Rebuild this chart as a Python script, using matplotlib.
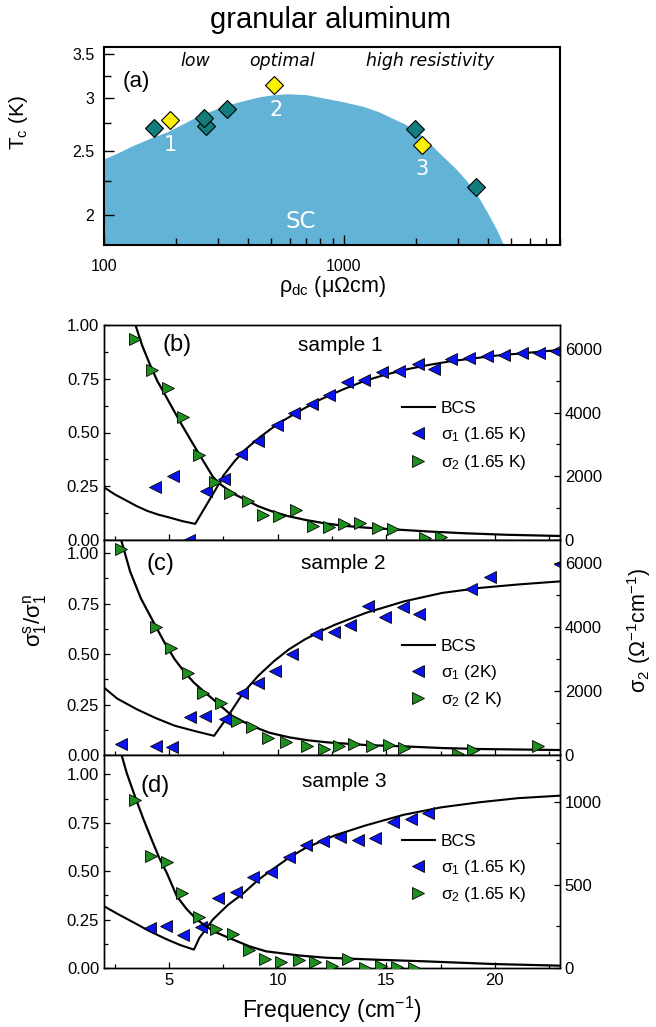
import matplotlib
matplotlib.use("Agg")
import matplotlib.pyplot as plt
from matplotlib.lines import Line2D
from matplotlib.ticker import FixedLocator, MultipleLocator, NullFormatter, FormatStrFormatter, LogLocator

plt.rcParams["font.family"] = ["Liberation Sans", "DejaVu Sans"]
plt.rcParams["mathtext.default"] = "regular"

# ---- panel (a): Tc vs rho ----
dome_rho = [100, 115, 130, 155, 183, 215, 250, 300, 347, 400, 450, 510, 581, 700, 849, 1000, 1200,
            1400, 1600, 1800, 1983, 2133, 2350, 2600, 2900, 3200, 3566, 4000, 4350, 4655]
dome_tc = [2.43, 2.485, 2.54, 2.61, 2.67, 2.75, 2.83, 2.90, 2.95, 2.99, 3.02, 3.04, 3.05, 3.04, 3.0,
           2.965, 2.92, 2.865, 2.80, 2.745, 2.69, 2.63, 2.54, 2.45, 2.36, 2.27, 2.16, 2.01, 1.90, 1.80]

teal_rho = [161, 266, 262, 327, 1988, 3566]
teal_tc = [2.705, 2.73, 2.80, 2.897, 2.70, 2.20]
yellow_rho = [189, 511, 2133]
yellow_tc = [2.78, 3.145, 2.55]

sample_names = ["1", "2", "3"]
sample_rho = [189, 524, 2133]
sample_tc = [2.55, 2.885, 2.35]

region_names = ["low", "optimal", "high resistivity"]
region_rho = [240, 554, 2296]

# ---- panel (b): sample 1 ----
f1_b = [4.37, 5.17, 5.93, 6.70, 7.51, 8.31, 9.11, 9.95, 10.77, 11.56, 12.35, 13.19, 13.96, 14.80,
        15.60, 16.44, 17.21, 17.98, 18.82, 19.62, 20.40, 21.25, 22.04, 22.81]
s1_b = [0.245, 0.298, 0.0, 0.228, 0.284, 0.40, 0.462, 0.535, 0.589, 0.631, 0.674, 0.736, 0.744, 0.783,
        0.785, 0.819, 0.794, 0.840, 0.845, 0.856, 0.860, 0.868, 0.871, 0.879]
f2_b = [3.45, 4.22, 4.94, 5.63, 6.36, 7.09, 7.82, 8.62, 9.34, 10.08, 10.84, 11.61, 12.35, 13.07,
        13.80, 14.60, 15.31, 16.8, 17.5]
s2_b = [6310, 5337, 4781, 3872, 2668, 1830, 1465, 1234, 785, 753, 942, 440, 418, 493,
        524, 366, 355, 60, 80]
bcs1_fb = [2, 2.5, 3, 3.5, 4, 4.5, 5, 5.6, 6.2, 6.7, 7.2, 7.5, 8.0, 8.5, 9.2, 10, 11, 12, 13, 14,
           15, 16, 17, 18, 20, 23]
bcs1_b = [0.245, 0.212, 0.185, 0.158, 0.135, 0.118, 0.105, 0.088, 0.075, 0.16, 0.245, 0.30, 0.365, 0.42,
          0.48, 0.54, 0.60, 0.655, 0.70, 0.74, 0.77, 0.795, 0.815, 0.832, 0.857, 0.884]
bcs2_fb = [3.0, 3.45, 3.75, 4.09, 4.45, 4.86, 5.25, 5.63, 6.0, 6.36, 7.01, 7.3, 7.62, 8.0, 8.54, 9.1, 9.77,
           10.5, 11.30, 12.1, 12.99, 14.0, 15.29, 17.0, 18.67, 20.5, 23]
bcs2_b = [7800, 6750, 6120, 5550, 5000, 4500, 4020, 3560, 3130, 2720, 1990, 1780, 1620, 1440, 1255,
          1060, 890, 745, 628, 530, 450, 390, 336, 265, 210, 165, 126]

# ---- panel (c): sample 2 ----
f1_c = [2.76, 4.38, 5.13, 5.96, 6.66, 7.58, 8.34, 9.08, 9.87, 10.66, 11.77, 12.61, 13.32, 14.14,
        14.94, 15.76, 16.52, 18.9, 19.78, 23.0]
s1_c = [0.054, 0.046, 0.038, 0.186, 0.194, 0.178, 0.306, 0.359, 0.416, 0.498, 0.597, 0.609, 0.646, 0.74,
        0.684, 0.734, 0.696, 0.822, 0.88, 0.946]
f2_c = [2.79, 4.41, 5.08, 5.87, 6.58, 7.37, 8.11, 8.83, 9.57, 10.36, 11.33, 12.12, 12.82, 13.53,
        14.32, 15.11, 15.82, 18.28, 18.98, 21.98]
s2_c = [6446, 4002, 3357, 2578, 1954, 1642, 1050, 863, 520, 395, 291, 187, 291, 343,
        270, 312, 218, 31, 166, 291]
bcs1_fc = [2, 2.6, 3.5, 4.4, 5.26, 6.2, 7.07, 7.72, 8.42, 9.1, 9.83, 10.5, 11.24, 12.0, 12.65, 14.06,
           15.82, 17.58, 19.34, 21.1, 23]
bcs1_c = [0.334, 0.28, 0.227, 0.182, 0.145, 0.118, 0.095, 0.194, 0.309, 0.392, 0.465, 0.522, 0.572, 0.614,
          0.646, 0.704, 0.761, 0.803, 0.828, 0.845, 0.86]
bcs2_fc = [2.5, 2.79, 3.2, 3.7, 4.38, 4.8, 5.26, 5.7, 6.14, 6.6, 7.02, 7.9, 8.78, 9.6, 10.54, 11.4, 12.3,
           14.06, 15.82, 17.58, 19.34, 23]
bcs2_c = [7500, 6730, 5750, 4900, 4033, 3500, 2993, 2600, 2266, 1990, 1746, 1226, 915, 700, 551, 460,
          395, 312, 270, 218, 187, 156]

# ---- panel (d): sample 3 ----
f1_d = [4.12, 4.84, 5.62, 6.45, 7.26, 8.08, 8.88, 9.67, 10.52, 11.31, 12.1, 12.89, 13.72, 14.47,
        15.32, 16.14, 16.93]
s1_d = [0.207, 0.219, 0.172, 0.21, 0.363, 0.392, 0.471, 0.494, 0.574, 0.634, 0.656, 0.676, 0.659, 0.673,
        0.753, 0.767, 0.801]
f2_d = [3.41, 4.16, 4.9, 5.6, 6.39, 7.18, 7.92, 8.68, 9.43, 10.17, 10.96, 11.72, 12.49, 13.24,
        14.0, 14.74, 15.49, 16.28]
s2_d = [1008, 672, 638, 453, 305, 233, 205, 110, 56, 36, 50, 36, 10, 54, 0, 10, 6, 0]
bcs1_fd = [2, 2.6, 3.35, 4.1, 4.89, 5.5, 6.14, 6.39, 7.01, 7.7, 8.41, 9.1, 9.82, 10.5, 11.22, 12.63, 14.04,
           15.79, 17.55, 19.3, 21.06, 23]
bcs1_d = [0.319, 0.281, 0.236, 0.19, 0.148, 0.119, 0.095, 0.155, 0.25, 0.325, 0.385, 0.455, 0.514, 0.568,
          0.616, 0.685, 0.736, 0.791, 0.830, 0.856, 0.877, 0.89]
bcs2_fd = [2.5, 2.7, 3.05, 3.41, 3.8, 4.2, 4.55, 4.9, 5.35, 5.8, 6.27, 7.03, 7.94, 8.7, 9.47, 11.0, 12.2,
           14.5, 16.8, 19.9, 23]
bcs2_d = [1480, 1330, 1170, 1037, 900, 770, 660, 569, 432, 355, 291, 221, 171, 130, 100, 75, 62,
          50, 40, 24, 14]

W, H = 656, 1027


def box(l, t, r, b):
    return [l / W, 1 - b / H, (r - l) / W, (b - t) / H]


fig = plt.figure(figsize=(W / 100, H / 100), dpi=100)

fig.text(331 / W, 1 - 20 / H, "granular aluminum", fontsize=21, ha="center", va="center")

# %% panel (a)
ax = fig.add_axes(box(104, 47, 560, 245))
ax.fill_between(dome_rho, dome_tc, 1.0, color="#63b3d6", lw=0, zorder=1)
ax.plot(teal_rho, teal_tc, "D", ms=8.7, mfc="#137d7d", mec="k", mew=0.8, zorder=3)
ax.plot(yellow_rho, yellow_tc, "D", ms=8.7, mfc="#fff200", mec="k", mew=0.8, zorder=3)
for name, r, t in zip(sample_names, sample_rho, sample_tc):
    ax.text(r, t, name, color="white", fontsize=15, ha="center", va="center", family="DejaVu Sans")
for name, r in zip(region_names, region_rho):
    ax.text(r, 3.42, name, fontsize=12.5, ha="center", va="center", style="italic", family="DejaVu Sans")
ax.text(661, 1.954, "SC", color="white", fontsize=16.5, ha="center", va="center", family="DejaVu Sans")
ax.text(137, 3.18, "(a)", fontsize=16, ha="center", va="center")
ax.set_xscale("log")
ax.set_yscale("log")
ax.set_xlim(100, 8000)
ax.set_ylim(1.80, 3.59)
ax.xaxis.set_major_locator(FixedLocator([100, 1000]))
ax.xaxis.set_major_formatter(FormatStrFormatter("%d"))
ax.xaxis.set_minor_locator(LogLocator(subs=range(2, 10)))
ax.xaxis.set_minor_formatter(NullFormatter())
ax.yaxis.set_major_locator(FixedLocator([2, 2.5, 3, 3.5]))
ax.yaxis.set_major_formatter(FormatStrFormatter("%g"))
ax.yaxis.set_minor_locator(FixedLocator([2.25, 2.75, 3.25]))
ax.yaxis.set_minor_formatter(NullFormatter())
ax.tick_params(which="both", direction="in", labelsize=11.5, width=1)
ax.tick_params(axis="x", pad=10)
ax.tick_params(axis="y", pad=7)
ax.tick_params(which="major", length=7.5)
ax.tick_params(which="minor", length=5)
for s in ax.spines.values():
    s.set_linewidth(1.5)
fig.text(18 / W, 1 - 122 / H, r"$T_c$ (K)", rotation=90, fontsize=15, ha="center", va="center")
fig.text(332 / W, 1 - 292 / H, r"$\rho_{dc}$ (μΩcm)", fontsize=15.5, ha="center", va="baseline")

# %% panels (b)-(d)
blue = "#0a14f0"
green = "#1f8f1f"


def draw_panel(rect, f1, s1, f2, s2, bf1, b1, bf2, b2, ylim_l, ylim_r, rmaj, rmin,
               letter, letter_xy, sample, sample_xy, leg_labels, leg_y, show_x):
    ax = fig.add_axes(rect)
    ax2 = ax.twinx()
    ax.plot(bf1, b1, "-", color="k", lw=1.5, zorder=2)
    ax.plot(f1, s1, "<", ms=9, mfc=blue, mec="k", mew=0.6, zorder=3)
    ax2.plot(bf2, b2, "-", color="k", lw=1.6, zorder=2)
    ax2.plot(f2, s2, ">", ms=9, mfc=green, mec="k", mew=0.6, zorder=3)
    ax.set_xlim(2, 23)
    ax.set_ylim(0, ylim_l)
    ax2.set_ylim(0, ylim_r)
    ax.xaxis.set_major_locator(MultipleLocator(5))
    ax.xaxis.set_minor_locator(MultipleLocator(2.5))
    ax.yaxis.set_major_locator(MultipleLocator(0.25))
    ax.yaxis.set_minor_locator(MultipleLocator(0.125))
    ax.yaxis.set_major_formatter(FormatStrFormatter("%.2f"))
    ax2.yaxis.set_major_locator(MultipleLocator(rmaj))
    ax2.yaxis.set_minor_locator(MultipleLocator(rmin))
    ax.tick_params(which="both", direction="in", labelsize=12, top=False, right=False, pad=3.5)
    ax2.tick_params(which="both", direction="in", labelsize=12, pad=3.5)
    for a in (ax, ax2):
        a.tick_params(which="major", length=4.5, width=0.9)
        a.tick_params(which="minor", length=2.8, width=0.9)
        for s in a.spines.values():
            s.set_linewidth(1.0)
    if not show_x:
        ax.tick_params(labelbottom=False)
    ax.text(letter_xy[0], letter_xy[1], letter, fontsize=17, ha="center", va="center")
    ax.text(sample_xy[0], sample_xy[1], sample, fontsize=15, ha="center", va="center")
    handles = [Line2D([], [], color="k", lw=1.5),
               Line2D([], [], ls="none", marker="<", ms=9, mfc=blue, mec="k", mew=0.6),
               Line2D([], [], ls="none", marker=">", ms=9, mfc=green, mec="k", mew=0.6)]
    ax2.legend(handles, leg_labels, loc="upper left", bbox_to_anchor=(0.6535, leg_y), frameon=False,
               fontsize=12.5, handlelength=1.9, handletextpad=0.35, labelspacing=0.5,
               borderpad=0, borderaxespad=0)
    return ax


draw_panel(box(104, 325, 560, 540), f1_b, s1_b, f2_b, s2_b, bcs1_fb, bcs1_b, bcs2_fb, bcs2_b,
           1.0, 6750, 2000, 1000, "(b)", (5.35, 0.905), "sample 1", (12.86, 0.905),
           ["BCS", r"$\sigma_1$ (1.65 K)", r"$\sigma_2$ (1.65 K)"], 0.645, False)
draw_panel(box(104, 540, 560, 755), f1_c, s1_c, f2_c, s2_c, bcs1_fc, bcs1_c, bcs2_fc, bcs2_c,
           1.065, 6730, 2000, 1000, "(c)", (4.59, 0.947), "sample 2", (13.0, 0.947),
           ["BCS", r"$\sigma_1$ (2K)", r"$\sigma_2$ (2 K)"], 0.54, False)
draw_panel(box(104, 755, 560, 968), f1_d, s1_d, f2_d, s2_d, bcs1_fd, bcs1_d, bcs2_fd, bcs2_d,
           1.10, 1280, 500, 250, "(d)", (4.37, 0.942), "sample 3", (13.07, 0.964),
           ["BCS", r"$\sigma_1$ (1.65 K)", r"$\sigma_2$ (1.65 K)"], 0.63, True)

fig.text(35 / W, 1 - 620 / H, r"$\sigma_1^s/\sigma_1^n$", rotation=90, fontsize=16, ha="center", va="center")
fig.text(639 / W, 1 - 630 / H, r"$\sigma_2\ (\Omega^{-1}cm^{-1})$", rotation=90, fontsize=15.5,
         ha="center", va="center")
fig.text(332 / W, 1 - 1018 / H, r"Frequency (cm$^{-1}$)", fontsize=16.5, ha="center", va="baseline")

fig.savefig("out.png", dpi=100)
